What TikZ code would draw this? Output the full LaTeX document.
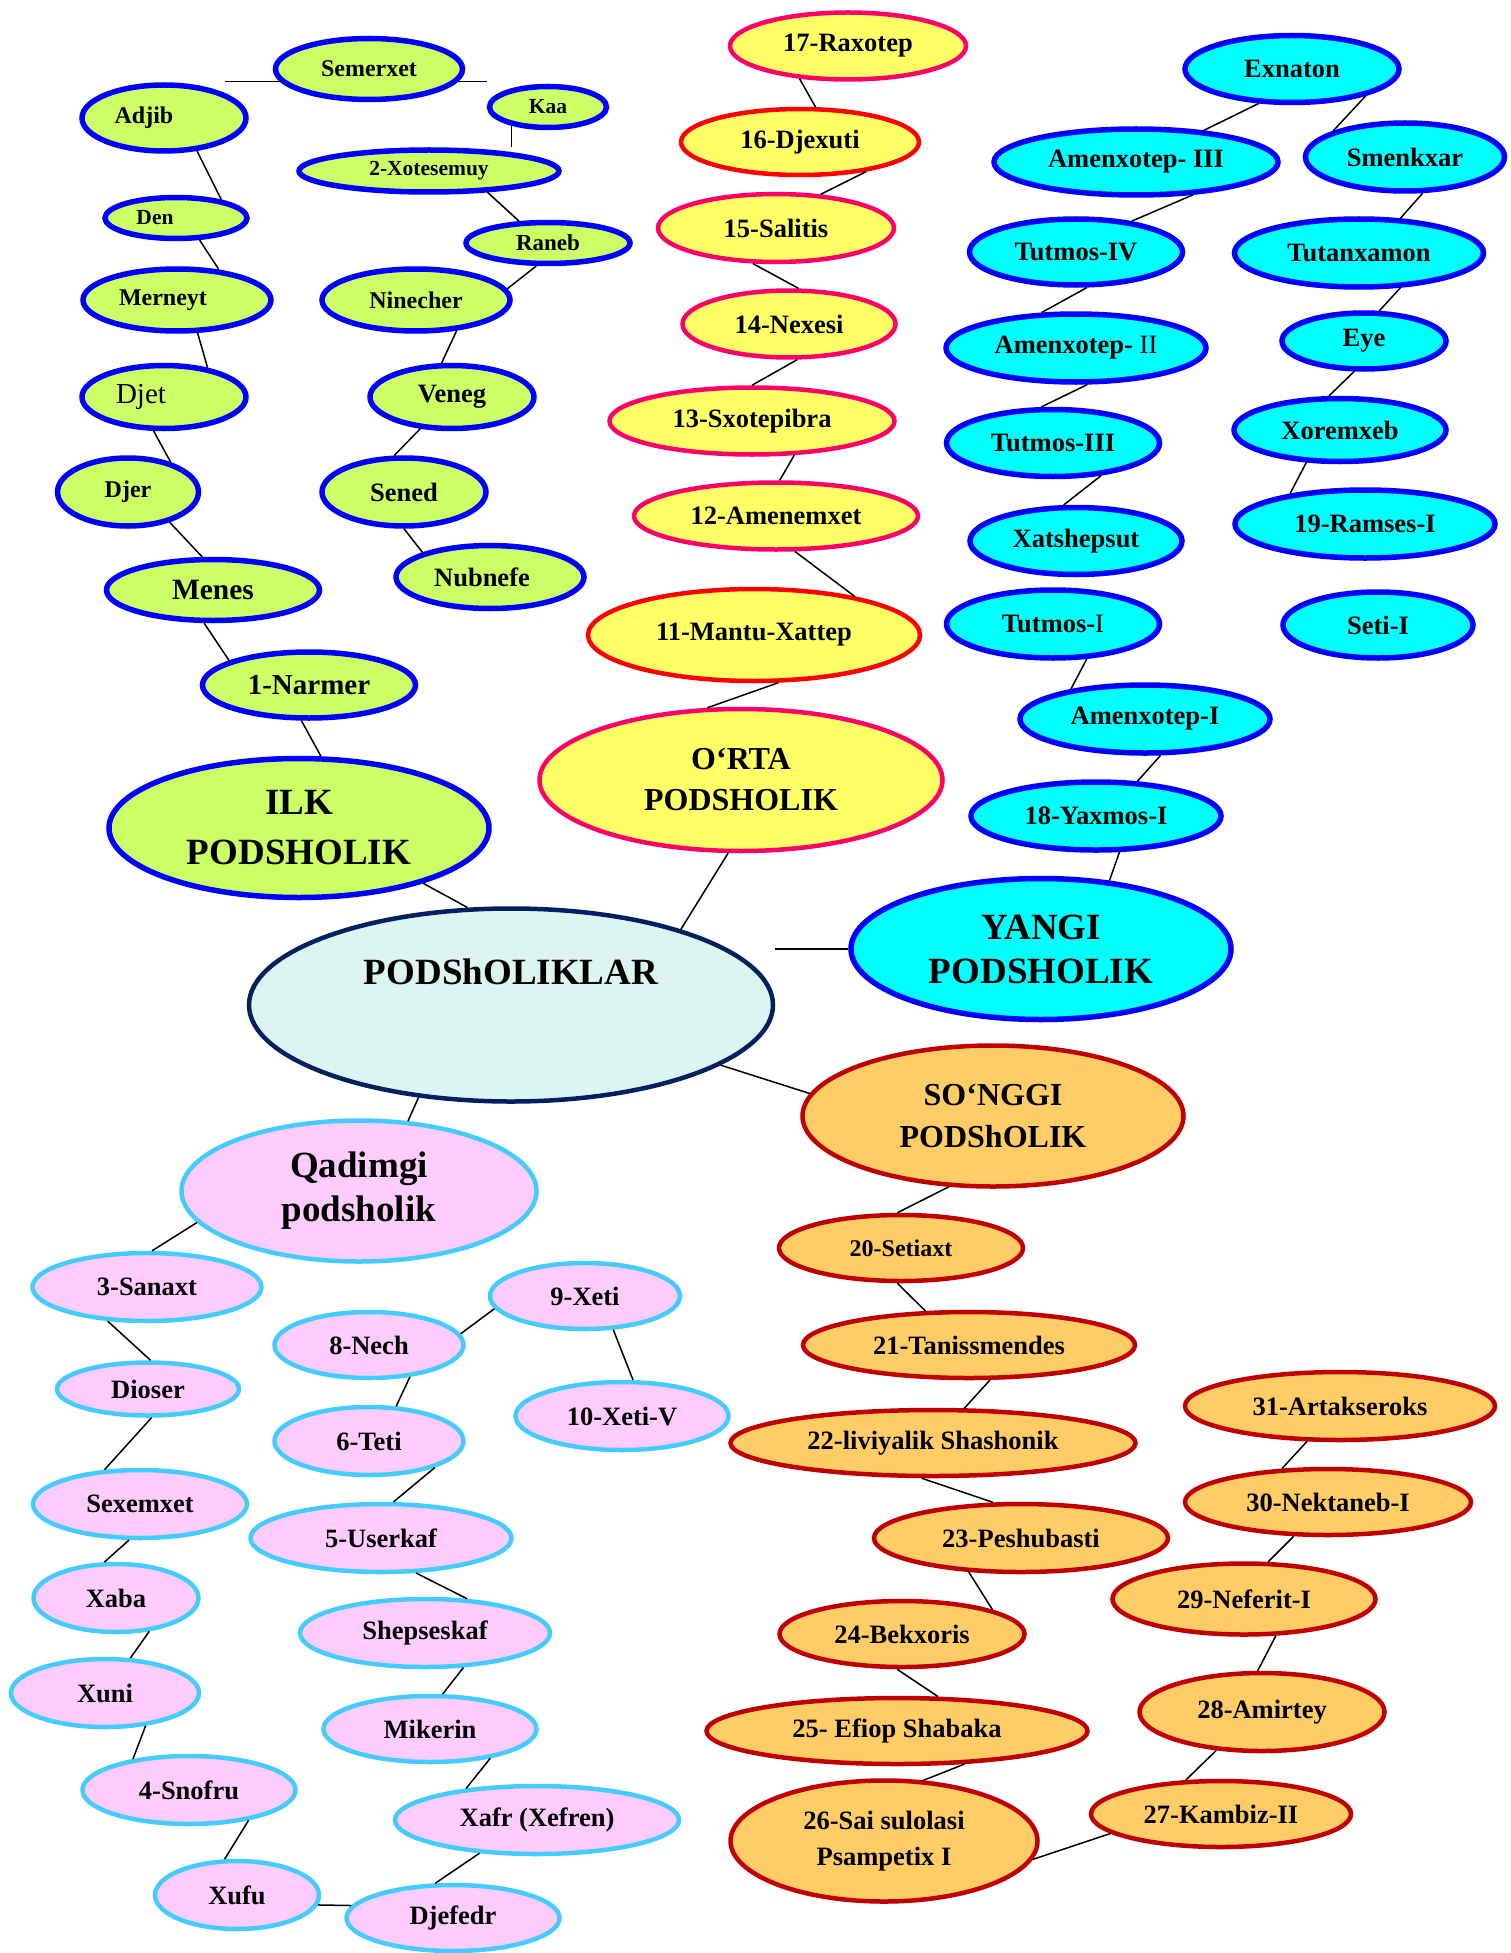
\documentclass[tikz,border=0pt]{standalone}
\usepackage{fontspec}
\setmainfont{Liberation Serif}
\usepackage{xcolor}
\usepackage{tikz}
\usetikzlibrary{shapes.geometric}
\definecolor{ilkfill}{HTML}{CCFF66}
\definecolor{ilkline}{HTML}{0000FF}
\definecolor{ortafill}{HTML}{FFFF66}
\definecolor{ortaline}{HTML}{FF0066}
\definecolor{ortared}{HTML}{FF0000}
\definecolor{yangifill}{HTML}{00FFFF}
\definecolor{yangiline}{HTML}{0000FF}
\definecolor{songgifill}{HTML}{FFCC66}
\definecolor{songgiline}{HTML}{C00000}
\definecolor{qadimfill}{HTML}{FFCCFF}
\definecolor{qadimline}{HTML}{44CCFF}
\definecolor{rootfill}{HTML}{DDF5F0}
\definecolor{rootline}{HTML}{002060}

\begin{document}
\begin{tikzpicture}[
        x=1pt, y=-1pt,
        king/.style={
            ellipse,
            line width=4.5pt,
            inner sep=0pt,
            align=center,
            text=black,
            font=\fontsize{26.5}{32}\selectfont\bfseries
        },
        sz/.style 2 args={minimum width={#1pt-4pt}, minimum height={#2pt-4pt}},
        fs/.style={font=\fontsize{#1}{#1}\selectfont\bfseries},
        ilk/.style={king, line width=5.5pt, draw=ilkline, fill=ilkfill, fs=24},
        orta/.style={king, draw=ortaline, fill=ortafill},
        yangi/.style={king, line width=5.5pt, draw=yangiline, fill=yangifill},
        songgi/.style={king, draw=songgiline, fill=songgifill},
        qadim/.style={king, draw=qadimline, fill=qadimfill},
        link/.style={line width=1.5pt, black}
    ]
    \useasboundingbox (0,0) rectangle (1510,1953);

    % centre
    \node[king, draw=rootline, fill=rootfill, sz={528}{197},
          font=\fontsize{37}{44}\selectfont\bfseries] (root) at (511,1005) {PODShOLIKLAR\\[22pt]~};

    % ilk podsholik
    \node[ilk, sz={384}{143}, font=\fontsize{37}{50}\selectfont\bfseries] (ilkpod) at (299,828) {ILK\\PODSHOLIK};
    \node[ilk, sz={191}{65}] (semerxet) at (369,69) {Semerxet};
    \node[ilk, sz={121}{45}, fs=21.5] (kaa) at (548,107) {Kaa};
    \node[ilk, sz={168}{70}] (adjib) at (164,118) {Adjib\hspace{40pt}};
    \node[ilk, sz={264}{46}, fs=21.5] (xotesemuy) at (429,171) {2-Xotesemuy};
    \node[ilk, sz={146}{45}, fs=21.5] (den) at (176,218) {Den\hspace{42pt}};
    \node[ilk, sz={168}{45}, fs=23] (raneb) at (548,243) {Raneb};
    \node[ilk, sz={192}{66}] (merneyt) at (177,300) {Merneyt\hspace{28pt}};
    \node[ilk, sz={192}{66}] (ninecher) at (416,300) {Ninecher};
    \node[ilk, sz={168}{67}, font=\fontsize{29}{29}\selectfont] (djet) at (164,397) {Djet\hspace{46pt}};
    \node[ilk, sz={168}{67}, fs=26.5] (veneg) at (452,397) {Veneg};
    \node[ilk, sz={145}{72}] (djer) at (128,492) {Djer};
    \node[ilk, sz={168}{72}, fs=26.5] (sened) at (404,492) {Sened};
    \node[ilk, sz={217}{65}, fs=29.5] (menes) at (213,590) {Menes};
    \node[ilk, sz={192}{67}, fs=26.5] (nubnefe) at (490,577) {Nubnefe\hspace{16pt}};
    \node[ilk, sz={217}{70}, fs=29] (narmer) at (309,685) {1-Narmer};

    % o`rta podsholik
    \node[orta, sz={407}{146}, font=\fontsize{32}{41}\selectfont\bfseries] (ortapod) at (741,780) {O`RTA\\PODSHOLIK};
    \node[orta, sz={240}{71}] (raxotep) at (848,46) {17-Raxotep};
    \node[orta, draw=ortared, sz={242}{70}] (djexuti) at (800,142) {16-Djexuti};
    \node[orta, sz={240}{72}] (salitis) at (776,228) {15-Salitis};
    \node[orta, sz={217}{71}] (nexesi) at (789,324) {14-Nexesi};
    \node[orta, sz={289}{71}] (sxotepibra) at (752,421) {13-Sxotepibra};
    \node[orta, sz={288}{71}] (amenemxet) at (776,516) {12-Amenemxet};
    \node[orta, draw=ortared, sz={336}{96}] (mantu) at (754,635) {11-Mantu-Xattep};

    % yangi podsholik
    \node[yangi, sz={384}{145}, font=\fontsize{37}{44}\selectfont\bfseries] (yangipod) at (1041,949) {YANGI\\PODSHOLIK};
    \node[yangi, sz={218}{71}] (exnaton) at (1292,69) {Exnaton};
    \node[yangi, sz={288}{70}] (amenIII) at (1136,162) {Amenxotep- III};
    \node[yangi, sz={203}{72}] (smenkxar) at (1405,157) {Smenkxar};
    \node[yangi, sz={217}{70}] (tutIV) at (1076,252) {Tutmos-IV};
    \node[yangi, sz={253}{72}] (tutanxamon) at (1359,253) {Tutanxamon};
    \node[yangi, sz={264}{72}] (amenII) at (1076,348) {Amenxotep- {\mdseries II}};
    \node[yangi, sz={168}{60}] (eye) at (1364,341) {Eye};
    \node[yangi, sz={217}{71}] (tutIII) at (1053,443) {Tutmos-III};
    \node[yangi, sz={216}{67}] (xoremxeb) at (1340,430) {Xoremxeb};
    \node[yangi, sz={216}{71}] (xatshepsut) at (1076,541) {Xatshepsut};
    \node[yangi, sz={264}{72}] (ramses) at (1365,524) {19-Ramses-I};
    \node[yangi, sz={217}{72}] (tutI) at (1053,624) {Tutmos-{\mdseries I}};
    \node[yangi, sz={194}{70}] (seti) at (1378,625) {Seti-I};
    \node[yangi, sz={254}{72}] (amenI) at (1145,719) {Amenxotep-I};
    \node[yangi, sz={254}{72}] (yaxmos) at (1096,816) {18-Yaxmos-I};

    % so`nggi podsholik
    \node[songgi, sz={385}{145}, font=\fontsize{32}{42}\selectfont\bfseries] (songgipod) at (993,1116) {SO`NGGI\\PODShOLIK};
    \node[songgi, sz={248}{70}, fs=24] (setiaxt) at (901,1248) {20-Setiaxt};
    \node[songgi, sz={336}{70}] (tanis) at (969,1345) {21-Tanissmendes};
    \node[songgi, sz={409}{70}] (shashonik) at (933,1443) {22-liviyalik Shashonik};
    \node[songgi, sz={298}{72}] (peshubasti) at (1021,1538) {23-Peshubasti};
    \node[songgi, sz={249}{70}] (bekxoris) at (902,1634) {24-Bekxoris};
    \node[songgi, sz={385}{70}] (shabaka) at (897,1731) {25- Efiop Shabaka};
    \node[songgi, sz={311}{125}, font=\fontsize{26.5}{36}\selectfont\bfseries] (sai) at (884,1841) {26-Sai sulolasi\\Psampetix I};
    \node[songgi, sz={264}{70}] (kambiz) at (1221,1814) {27-Kambiz-II};
    \node[songgi, sz={249}{82}] (amirtey) at (1262,1712) {28-Amirtey};
    \node[songgi, sz={267}{75}] (neferit) at (1244,1599) {29-Neferit-I};
    \node[songgi, sz={290}{70}] (nektaneb) at (1328,1502) {30-Nektaneb-I};
    \node[songgi, sz={314}{72}] (artakseroks) at (1340,1406) {31-Artakseroks};

    % qadimgi podsholik
    \node[qadim, sz={359}{145}, font=\fontsize{37}{44}\selectfont\bfseries] (qadimpod) at (359,1191) {Qadimgi\\podsholik};
    \node[qadim, sz={233}{72}] (sanaxt) at (147,1287) {3-Sanaxt};
    \node[qadim, sz={194}{70}] (xetiIX) at (585,1296) {9-Xeti};
    \node[qadim, sz={193}{70}] (nech) at (369,1345) {8-Nech};
    \node[qadim, sz={217}{72}] (xetiV) at (622,1416) {10-Xeti-V};
    \node[qadim, sz={186}{57}] (dioser) at (148,1389) {Dioser};
    \node[qadim, sz={193}{72}] (teti) at (369,1441) {6-Teti};
    \node[qadim, sz={218}{72}] (sexemxet) at (140,1504) {Sexemxet};
    \node[qadim, sz={265}{72}] (userkaf) at (381,1538) {5-Userkaf};
    \node[qadim, sz={169}{72}] (xaba) at (116,1598) {Xaba};
    \node[qadim, sz={254}{72}] (shepseskaf) at (425,1633) {Shepseskaf};
    \node[qadim, sz={192}{72}] (xuni) at (105,1693) {Xuni};
    \node[qadim, sz={217}{70}] (mikerin) at (430,1729) {Mikerin};
    \node[qadim, sz={217}{72}] (snofru) at (189,1790) {4-Snofru};
    \node[qadim, sz={288}{72}] (xafr) at (537,1820) {Xafr (Xefren)};
    \node[qadim, sz={168}{72}] (xufu) at (237,1895) {Xufu};
    \node[qadim, sz={217}{70}] (djefedr) at (453,1918) {Djefedr};

    % links
    \draw[link] (ilkpod.-24) -- (root.114);
    \draw[link] (ortapod.-100) -- (root.24);
    \draw[link] (yangipod.west) -- (yangipod.west -| root.east);
    \draw[link] (root.-16) -- (songgipod.173);
    \draw[link] (root.-135) -- (qadimpod.55);

    \draw[link] (semerxet.188) -- (semerxet.188 -| adjib.22);
    \draw[link] (semerxet.-8) -- (semerxet.-8 -| kaa.west);
    \draw[link] (kaa.207) -- (kaa.207 |- xotesemuy.north);
    \draw[link] (adjib.-45) -- (den.22);
    \draw[link] (den.-43) -- (merneyt.36);
    \draw[link] (xotesemuy.-20) -- (raneb.143);
    \draw[link] (raneb.-117) -- (ninecher.7);
    \draw[link] (merneyt.-58) -- (djet.34);
    \draw[link] (ninecher.-37) -- (veneg.107);
    \draw[link] (djet.-107) -- (djer.35);
    \draw[link] (veneg.-135) -- (sened.105);
    \draw[link] (djer.-36) -- (menes.108);
    \draw[link] (sened.-90) -- (nubnefe.160);
    \draw[link] (menes.-105) -- (narmer.163);
    \draw[link] (narmer.-102) -- (ilkpod.73);

    \draw[link] (raxotep.-146) -- (djexuti.66);
    \draw[link] (djexuti.-24) -- (salitis.37);
    \draw[link] (salitis.-123) -- (nexesi.75);
    \draw[link] (nexesi.-77) -- (sxotepibra.90);
    \draw[link] (sxotepibra.-39) -- (amenemxet.84);
    \draw[link] (amenemxet.-62) -- (mantu.21);
    \draw[link] (mantu.-63) -- (ortapod.115);

    \draw[link] (exnaton.-134) -- (amenIII.25);
    \draw[link] (exnaton.-20) -- (smenkxar.160);
    \draw[link] (amenIII.-30) -- (tutIV.29);
    \draw[link] (smenkxar.-64) -- (tutanxamon.40);
    \draw[link] (tutIV.-73) -- (amenII.134);
    \draw[link] (tutanxamon.-40) -- (eye.63);
    \draw[link] (amenII.-73) -- (tutIII.108);
    \draw[link] (eye.-108) -- (xoremxeb.108);
    \draw[link] (tutIII.-34) -- (xatshepsut.109);
    \draw[link] (xoremxeb.-136) -- (ramses.158);
    \draw[link] (tutI.-46) -- (amenI.158);
    \draw[link] (amenI.-67) -- (yaxmos.40);
    \draw[link] (yaxmos.-57) -- (yangipod.45);

    \draw[link] (songgipod.-122) -- (setiaxt.96);
    \draw[link] (setiaxt.-96) -- (tanis.142);
    \draw[link] (tanis.-59) -- (shashonik.48);
    \draw[link] (shashonik.-108) -- (peshubasti.128);
    \draw[link] (peshubasti.-147) -- (bekxoris.15);
    \draw[link] (bekxoris.-98) -- (shabaka.40);
    \draw[link] (shabaka.-26) -- (sai.57);
    \draw[link] (sai.-7) -- (kambiz.-170);
    \draw[link] (kambiz.136) -- (amirtey.-140);
    \draw[link] (amirtey.96) -- (neferit.-49);
    \draw[link] (neferit.57) -- (nektaneb.-135);
    \draw[link] (nektaneb.144) -- (artakseroks.-133);

    \draw[link] (qadimpod.-169) -- (sanaxt.82);
    \draw[link] (sanaxt.-139) -- (dioser.85);
    \draw[link] (dioser.-83) -- (sexemxet.136);
    \draw[link] (sexemxet.-107) -- (xaba.108);
    \draw[link] (xaba.-45) -- (xuni.54);
    \draw[link] (xuni.-39) -- (snofru.151);
    \draw[link] (snofru.-27) -- (xufu.109);
    \draw[link] (xufu.-7) -- (djefedr.173);
    \draw[link] (djefedr.117) -- (xafr.-150);
    \draw[link] (xafr.156) -- (mikerin.-26);
    \draw[link] (mikerin.70) -- (shepseskaf.-42);
    \draw[link] (shepseskaf.39) -- (userkaf.-45);
    \draw[link] (userkaf.71) -- (teti.-22);
    \draw[link] (teti.52) -- (nech.-38);
    \draw[link] (nech.7) -- (xetiIX.188);
    \draw[link] (xetiIX.-50) -- (xetiV.73);
\end{tikzpicture}
\end{document}
